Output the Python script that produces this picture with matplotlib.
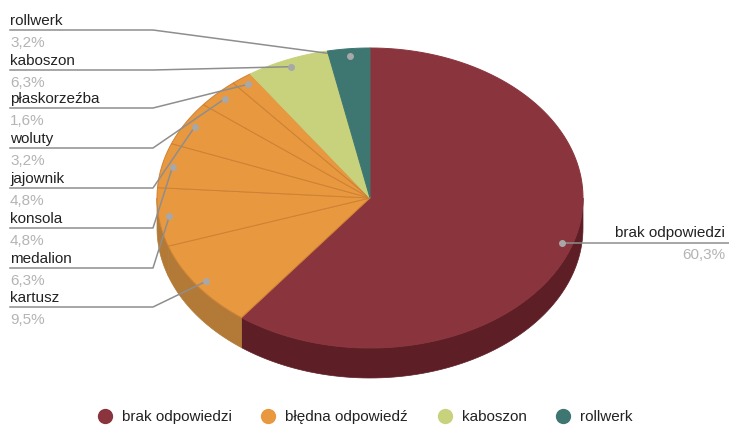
import numpy as np
import matplotlib.pyplot as plt
from matplotlib.patches import Polygon
from matplotlib.lines import Line2D

plt.rcParams['font.family'] = ['Liberation Sans', 'DejaVu Sans']

# Data (clockwise from 12 o'clock)
slices = ['brak odpowiedzi', 'kartusz', 'medalion', 'konsola', 'jajownik',
          'woluty', 'płaskorzeźba', 'kaboszon', 'rollwerk']
values = [60.3, 9.5, 6.3, 4.8, 4.8, 3.2, 1.6, 6.3, 3.2]
groups = ['brak odpowiedzi', 'błędna odpowiedź', 'błędna odpowiedź', 'błędna odpowiedź',
          'błędna odpowiedź', 'błędna odpowiedź', 'błędna odpowiedź', 'kaboszon', 'rollwerk']
legend_names = ['brak odpowiedzi', 'błędna odpowiedź', 'kaboszon', 'rollwerk']

top_col = {'brak odpowiedzi': '#8A343D', 'błędna odpowiedź': '#E8983F',
           'kaboszon': '#C8D27C', 'rollwerk': '#3E7672'}
side_col = {'brak odpowiedzi': '#5E1E26', 'błędna odpowiedź': '#B27A36',
            'kaboszon': '#9AA45A', 'rollwerk': '#2A524E'}

# layout (pixels)
W, H = 729, 426
cx, cy, rx, ry, depth = 370, 198, 213, 150, 30
left_rule_y = {'rollwerk': 30, 'kaboszon': 70, 'płaskorzeźba': 108, 'woluty': 148,
               'jajownik': 188, 'konsola': 228, 'medalion': 268, 'kartusz': 307}

fig = plt.figure(figsize=(W / 100, H / 100), dpi=100)
ax = fig.add_axes([0, 0, 1, 1])
ax.set_xlim(0, W)
ax.set_ylim(H, 0)
ax.axis('off')

def pt(t, r=1.0, dy=0.0):
    return cx + r * rx * np.cos(t), cy - r * ry * np.sin(t) + dy

vals = np.array(values)
ends = 90 - np.cumsum(vals) / vals.sum() * 360
starts = np.concatenate([[90], ends[:-1]])

# sides
for name, g, a0, a1 in zip(slices, groups, starts, ends):
    hi, lo = min(a0, 0), max(a1, -180)
    if hi <= lo:
        continue
    t = np.radians(np.linspace(hi, lo, 80))
    x, y = pt(t)
    xb, yb = pt(t[::-1], dy=depth)
    poly = np.column_stack([np.concatenate([x, xb]), np.concatenate([y, yb])])
    ax.add_patch(Polygon(poly, closed=True, facecolor=side_col[g],
                         edgecolor=side_col[g], lw=0.5, zorder=1))

# tops
for name, g, a0, a1 in zip(slices, groups, starts, ends):
    t = np.radians(np.linspace(a0, a1, 120))
    x, y = pt(t)
    poly = np.column_stack([np.concatenate([[cx], x]), np.concatenate([[cy], y])])
    ec = '#CF8133' if g == 'błędna odpowiedź' else top_col[g]
    z = 4 if name == 'rollwerk' else 2
    ax.add_patch(Polygon(poly, closed=True, facecolor=top_col[g],
                         edgecolor=ec, lw=0.7, zorder=z))

# labels
for name, v, a0, a1 in zip(slices, values, starts, ends):
    mid = np.radians((a0 + a1) / 2)
    dx, dy = pt(mid, 0.95)
    pct = f'{v:.1f}%'.replace('.', ',')
    if name in left_rule_y:
        ry_ = left_rule_y[name]
        ax.plot([10, 153, dx], [ry_, ry_, dy], color='#8E8E8E', lw=1.1, zorder=3)
        ax.text(10, ry_ - 5, name, fontsize=11, color='#222222', va='baseline', ha='left')
        ax.text(10, ry_ + 17, pct, fontsize=11, color='#B4B4B4', va='baseline', ha='left')
    else:
        ax.plot([dx, W], [dy, dy], color='#8E8E8E', lw=1.1, zorder=3)
        ax.text(725, dy - 6, name, fontsize=11, color='#222222', va='baseline', ha='right')
        ax.text(725, dy + 16, pct, fontsize=11, color='#B4B4B4', va='baseline', ha='right')
    ax.plot(dx, dy, 'o', ms=4, color='#A8A8A8', zorder=5)

# legend
handles = [Line2D([], [], ls='', marker='o', ms=10, color=top_col[n]) for n in legend_names]
fig.legend(handles, legend_names, loc='center', bbox_to_anchor=(365 / W, 1 - 417 / H),
           ncol=4, frameon=False, fontsize=11, handlelength=1.0, handletextpad=0.62,
           columnspacing=1.9, labelcolor='#222222')

fig.savefig('out.png', dpi=100)
